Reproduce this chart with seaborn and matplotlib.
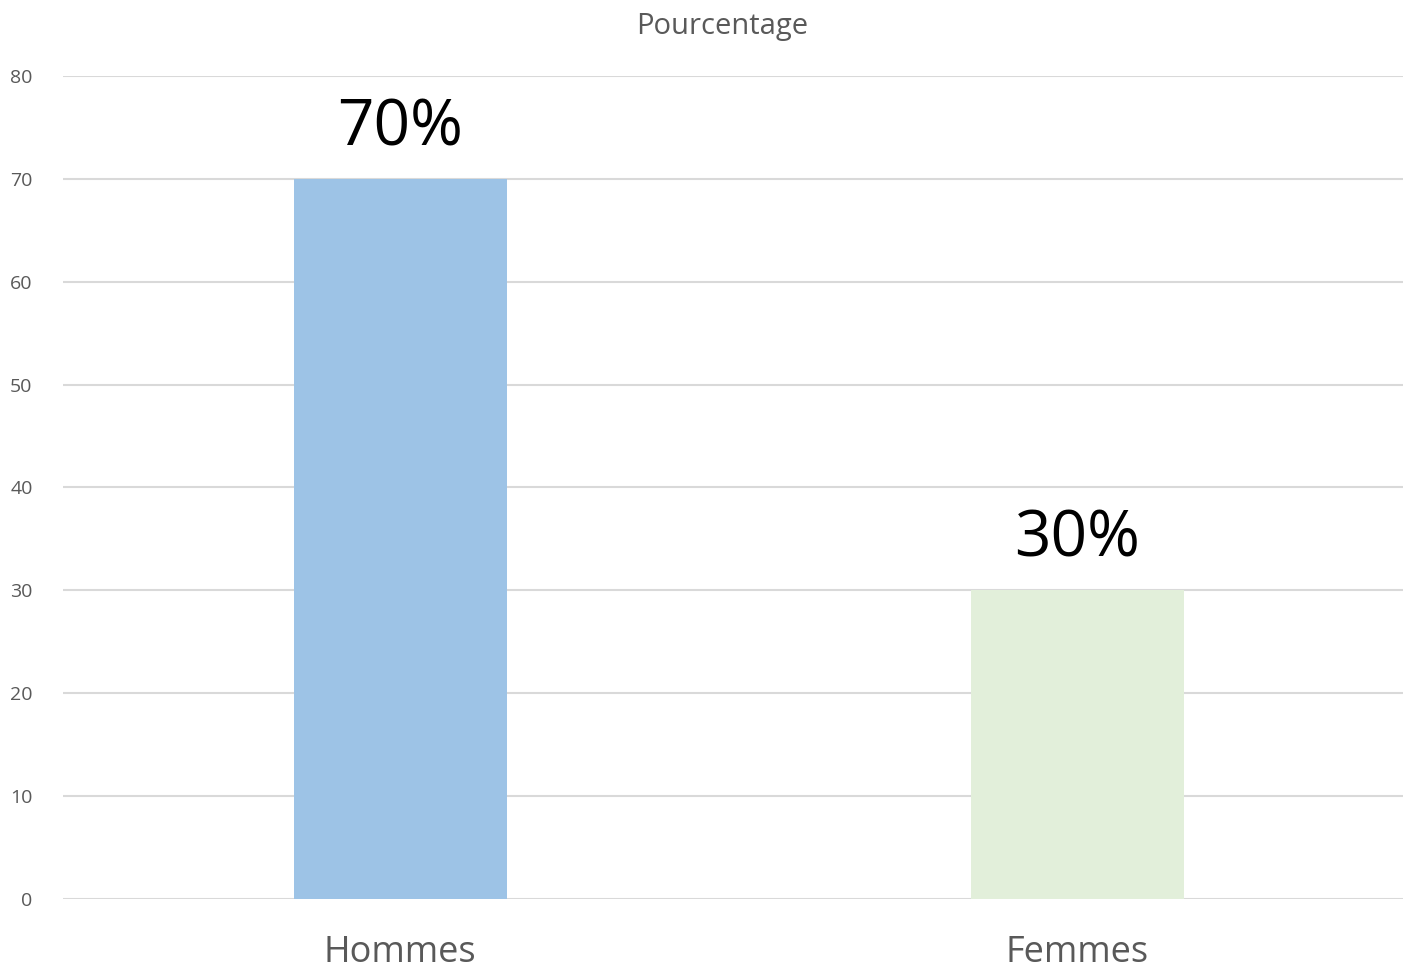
import matplotlib
matplotlib.use("Agg")
import matplotlib.pyplot as plt
import seaborn as sns

categories = ["Hommes", "Femmes"]
values = [70, 30]
labels = ["70%", "30%"]
colors = ["#9DC3E6", "#E2EFDA"]

sns.set_style("white")
plt.rcParams["font.family"] = ["Open Sans", "DejaVu Sans"]

fig = plt.figure(figsize=(14.03, 9.73), dpi=100)
ax = fig.add_axes([0.045, 0.076, 0.955, 0.846])

sns.barplot(x=categories, y=values, hue=categories, palette=colors,
            width=0.315, legend=False, ax=ax, saturation=1, linewidth=0)

ax.set_ylim(0, 80)
ax.set_xlim(-0.498, 1.481)
ax.set_yticks(range(0, 81, 10))
ax.yaxis.grid(True, color="#D9D9D9", linewidth=1.5)
ax.set_axisbelow(True)
for s in ax.spines.values():
    s.set_visible(False)
ax.tick_params(axis="y", length=0, labelsize=14, labelcolor="#595959", pad=22)
ax.tick_params(axis="x", length=0, labelsize=26, labelcolor="#595959", pad=26)

for i, (v, lab) in enumerate(zip(values, labels)):
    ax.text(i, v + 1.8, lab, ha="center", va="bottom", fontsize=46, color="black")

ax.set_title("Pourcentage", fontsize=21, color="#595959", pad=30, x=0.492)
ax.set_xlabel("")
ax.set_ylabel("")

fig.savefig("out.png", dpi=100)
